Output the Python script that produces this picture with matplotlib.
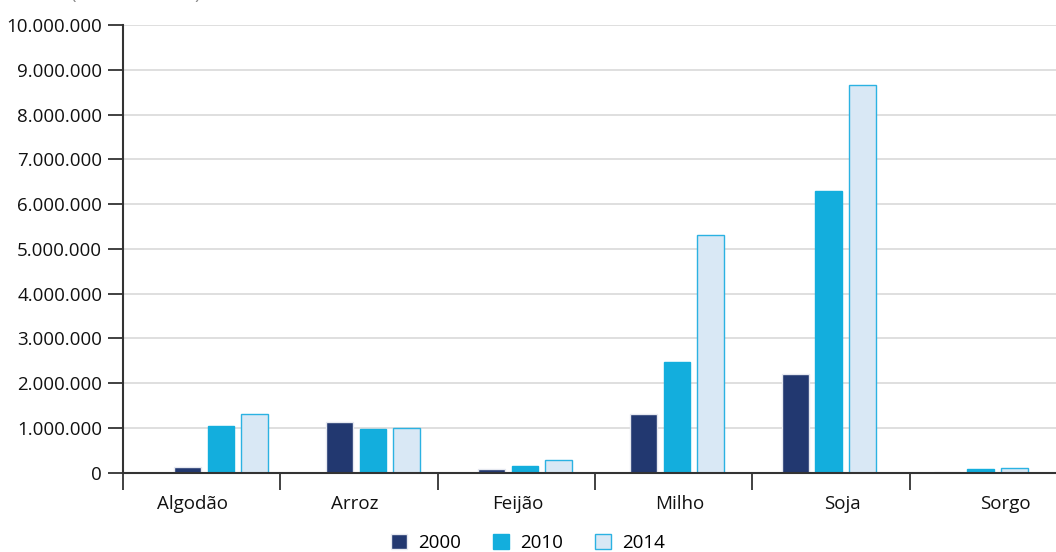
import matplotlib
matplotlib.use("Agg")
import matplotlib.pyplot as plt
import numpy as np
from matplotlib.ticker import FuncFormatter

plt.rcParams["font.family"] = ["Open Sans", "DejaVu Sans"]

# ─── Dados (toneladas) ───────────────────────────────
culturas = ["Algodão", "Arroz", "Feijão", "Milho", "Soja", "Sorgo"]
anos = ["2000", "2010", "2014"]
prod_2000 = [120_000, 1_125_000, 80_000, 1_310_000, 2_210_000, 10_000]
prod_2010 = [1_040_000, 970_000, 140_000, 2_460_000, 6_290_000, 70_000]
prod_2014 = [1_300_000, 1_000_000, 270_000, 5_300_000, 8_650_000, 110_000]
series = [prod_2000, prod_2010, prod_2014]

cores = ["#223870", "#13AEDD", "#D9E8F5"]
bordas = ["#E6E9F0", "#13AEDD", "#2BB2E2"]

fig = plt.figure(figsize=(10.56, 5.52), dpi=100)
# eixo um pouco além da borda direita (como no original)
ax = fig.add_axes([0.1165, 0.1440, 0.894, 0.8107])

n = len(culturas)
idx = np.arange(n)
# grupos de barras ligeiramente deslocados em relação às divisões
centro = 0.623 + idx * 0.9657
larg, passo = 0.170, 0.214
for k, (vals, cor, borda) in enumerate(zip(series, cores, bordas)):
    ax.bar(centro + (k - 1) * passo, vals, width=larg, color=cor,
           edgecolor=borda, linewidth=1.0, label=anos[k], zorder=3)

ax.set_xlim(0, n)
ax.set_ylim(0, 10_000_000)

# ─── Eixo Y ─────────────────────────────────────────
ax.set_yticks(np.arange(0, 10_000_001, 1_000_000))
ax.yaxis.set_major_formatter(
    FuncFormatter(lambda v, _: f"{int(v):,}".replace(",", ".")))
ax.tick_params(axis="y", length=11, width=1.3, color="#333333",
               labelsize=13.5, pad=4, labelcolor="#111111")
ax.grid(axis="y", color="#D9D9D9", linewidth=1.2, zorder=0)

# ─── Eixo X: divisões + rótulos entre elas ──────────
ax.set_xticks(idx.tolist() + [n])
ax.set_xticklabels([])
ax.tick_params(axis="x", which="major", direction="out", length=12,
               width=1.3, color="#333333")
ax.set_xticks(0.443 + idx * 1.0325, minor=True)
ax.set_xticklabels(culturas, minor=True)
ax.tick_params(axis="x", which="minor", length=0, pad=16,
               labelsize=13.5, labelcolor="#111111")

for s in ("top", "right"):
    ax.spines[s].set_visible(False)
for s in ("left", "bottom"):
    ax.spines[s].set_color("#333333")
    ax.spines[s].set_linewidth(1.5)
ax.spines["bottom"].set_zorder(4)

# unidade (cortada no topo, como na imagem original)
fig.text(0.129, 0.9945, "(Em toneladas)", ha="center", va="bottom",
         fontsize=13.5, color="#8A8A8A")

fig.legend(loc="lower center", bbox_to_anchor=(0.5, -0.02), ncol=3,
           frameon=False, fontsize=13.5, handlelength=0.85,
           handleheight=0.85, columnspacing=1.7, handletextpad=0.6,
           borderaxespad=0.2)

fig.savefig("out.png", dpi=100)
